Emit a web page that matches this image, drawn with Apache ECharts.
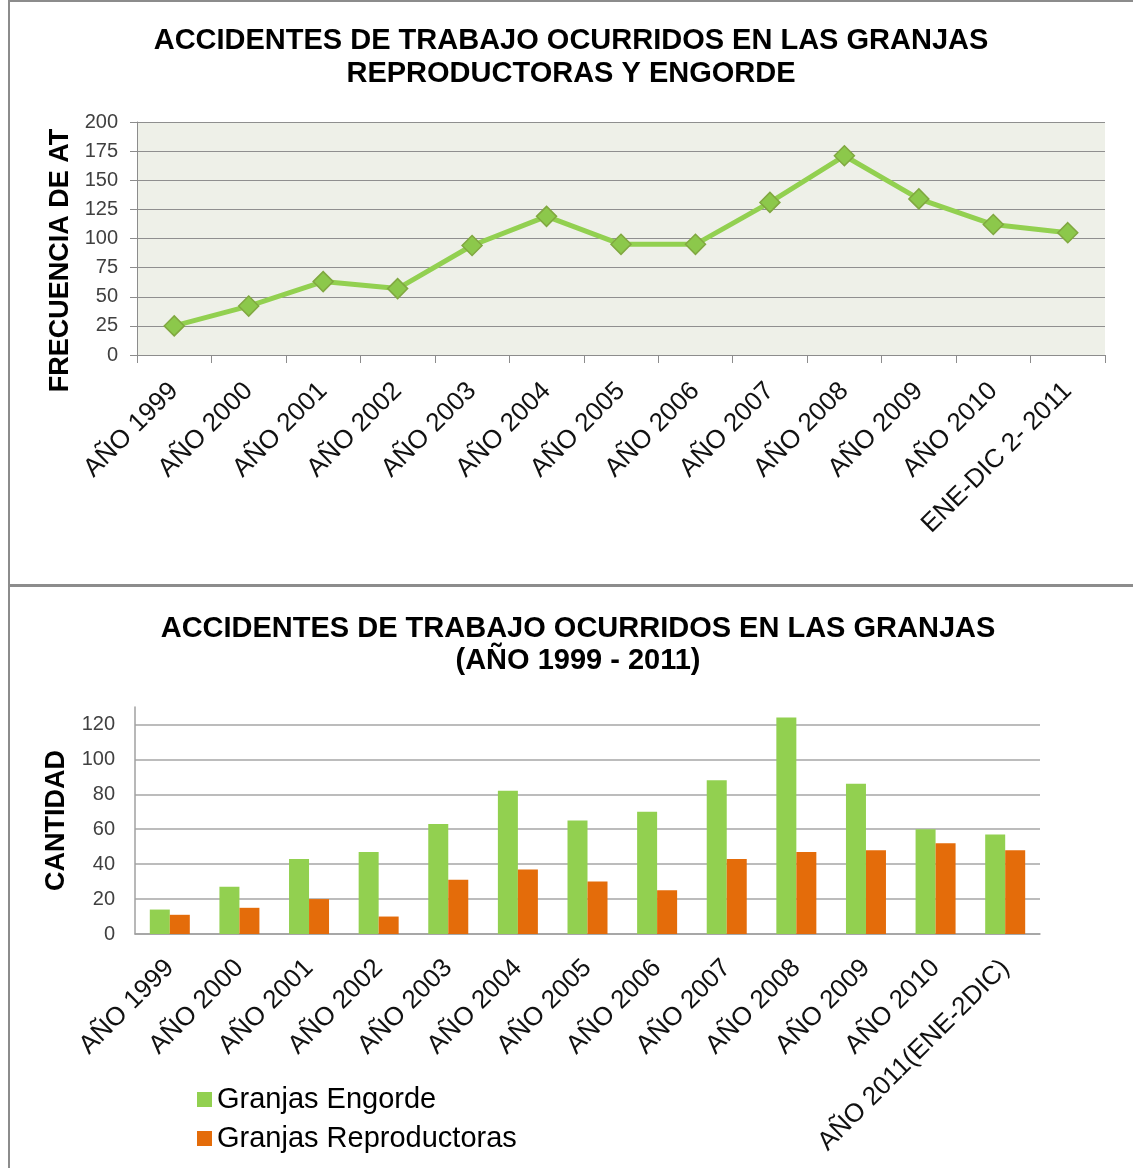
<!DOCTYPE html>
<html>
<head>
<meta charset="utf-8">
<script src="https://cdn.jsdelivr.net/npm/echarts@6/dist/echarts.min.js"></script>
<style>
  html, body { margin: 0; padding: 0; background: #fff; }
  #chart { width: 1133px; height: 1168px; }
</style>
</head>
<body>
<div id="chart"></div>
<script>
// top chart: total accidents per year
const topCategories = ["AÑO 1999", "AÑO 2000", "AÑO 2001", "AÑO 2002", "AÑO 2003", "AÑO 2004", "AÑO 2005",
  "AÑO 2006", "AÑO 2007", "AÑO 2008", "AÑO 2009", "AÑO 2010", "ENE-DIC 2- 2011"];
const totals = [25, 42, 63, 57, 94, 119, 95, 95, 131, 171, 134, 112, 105];

// bottom chart: by farm type
const bottomCategories = ["AÑO 1999", "AÑO 2000", "AÑO 2001", "AÑO 2002", "AÑO 2003", "AÑO 2004", "AÑO 2005",
  "AÑO 2006", "AÑO 2007", "AÑO 2008", "AÑO 2009", "AÑO 2010", "AÑO 2011(ENE-2DIC)"];
const engorde = [14, 27, 43, 47, 63, 82, 65, 70, 88, 124, 86, 60, 57];
const reproductoras = [11, 15, 20, 10, 31, 37, 30, 25, 43, 47, 48, 52, 48];

const FONT = "'Liberation Sans', Arial, sans-serif";
const green = "#92D050";
const orange = "#E46C0A";

const chart = echarts.init(document.getElementById("chart"));

const option = {
  animation: false,
  textStyle: { fontFamily: FONT },
  title: [
    {
      text: "ACCIDENTES DE TRABAJO OCURRIDOS EN LAS GRANJAS\nREPRODUCTORAS Y ENGORDE",
      left: 571,
      textAlign: "center",
      top: 24,
      padding: 0,
      textStyle: { fontFamily: FONT, fontSize: 29, fontWeight: "bold", color: "#000", lineHeight: 33 },
    },
    {
      text: "ACCIDENTES DE TRABAJO OCURRIDOS EN LAS GRANJAS\n(AÑO 1999 - 2011)",
      left: 578,
      textAlign: "center",
      top: 613,
      padding: 0,
      textStyle: { fontFamily: FONT, fontSize: 29, fontWeight: "bold", color: "#000", lineHeight: 32 },
    },
  ],
  legend: {
    data: ["Granjas Engorde", "Granjas Reproductoras"],
    orient: "vertical",
    left: 192,
    top: 1080,
    icon: "rect",
    itemWidth: 15,
    itemHeight: 15,
    itemGap: 10,
    textStyle: { fontFamily: FONT, fontSize: 29, color: "#000", lineHeight: 29 },
  },
  // panel frames
  graphic: [
    { type: "rect", shape: { x: 9, y: 1, width: 1140, height: 584 }, style: { fill: null, stroke: "#8c8c8c", lineWidth: 2 }, silent: true },
    { type: "rect", shape: { x: 9, y: 586, width: 1140, height: 600 }, style: { fill: null, stroke: "#8c8c8c", lineWidth: 2 }, silent: true },
  ],
  grid: [
    { left: 137, right: 28, top: 122, bottom: 813, show: true, backgroundColor: "#EEF0E8", borderWidth: 0 },
    { left: 135, right: 93, top: 707, bottom: 234 },
  ],
  xAxis: [
    {
      gridIndex: 0,
      type: "category",
      data: topCategories,
      axisLine: { lineStyle: { color: "#8c8c8c", width: 1 } },
      axisTick: { show: true, length: 8, lineStyle: { color: "#8c8c8c" } },
      axisLabel: { rotate: 45, margin: 32, interval: 0, fontFamily: FONT, fontSize: 26, color: "#111" },
    },
    {
      gridIndex: 1,
      type: "category",
      data: bottomCategories,
      axisLine: { lineStyle: { color: "#a0a0a0", width: 1.5 } },
      axisTick: { show: false },
      axisLabel: { rotate: 45, margin: 30, interval: 0, fontFamily: FONT, fontSize: 26, color: "#111" },
    },
  ],
  yAxis: [
    {
      gridIndex: 0,
      type: "value",
      min: 0,
      max: 200,
      interval: 25,
      name: "FRECUENCIA DE AT",
      nameLocation: "middle",
      nameGap: 63,
      nameTextStyle: { fontFamily: FONT, fontSize: 27, fontWeight: "bold", color: "#000", padding: [0, 44, 0, 0] },
      axisLine: { show: true, lineStyle: { color: "#8c8c8c" } },
      axisTick: { show: true, length: 7, lineStyle: { color: "#8c8c8c" } },
      axisLabel: { margin: 19, fontFamily: FONT, fontSize: 20, color: "#404040" },
      splitLine: { lineStyle: { color: "#8f8f8f", width: 1 } },
    },
    {
      gridIndex: 1,
      type: "value",
      min: 0,
      max: 130,
      interval: 20,
      name: "CANTIDAD",
      nameLocation: "middle",
      nameGap: 65,
      nameTextStyle: { fontFamily: FONT, fontSize: 27, fontWeight: "bold", color: "#000" },
      axisLine: { show: true, lineStyle: { color: "#a0a0a0", width: 1.5 } },
      axisTick: { show: false },
      axisLabel: { margin: 20, fontFamily: FONT, fontSize: 20, color: "#404040", showMaxLabel: false },
      splitLine: { showMaxLine: false, lineStyle: { color: "#a6a6a6", width: 1.5 } },
    },
  ],
  series: [
    {
      name: "Total",
      type: "line",
      xAxisIndex: 0,
      yAxisIndex: 0,
      data: totals,
      symbol: "diamond",
      symbolSize: 20,
      lineStyle: { color: green, width: 5 },
      itemStyle: { color: "#8CC84B", borderColor: "#80A840", borderWidth: 1.5 },
    },
    {
      name: "Granjas Engorde",
      type: "bar",
      xAxisIndex: 1,
      yAxisIndex: 1,
      data: engorde,
      barWidth: 20,
      barGap: "0%",
      itemStyle: { color: green },
    },
    {
      name: "Granjas Reproductoras",
      type: "bar",
      xAxisIndex: 1,
      yAxisIndex: 1,
      data: reproductoras,
      barWidth: 20,
      barGap: "0%",
      itemStyle: { color: orange },
    },
  ],
};

chart.setOption(option);
</script>
</body>
</html>
